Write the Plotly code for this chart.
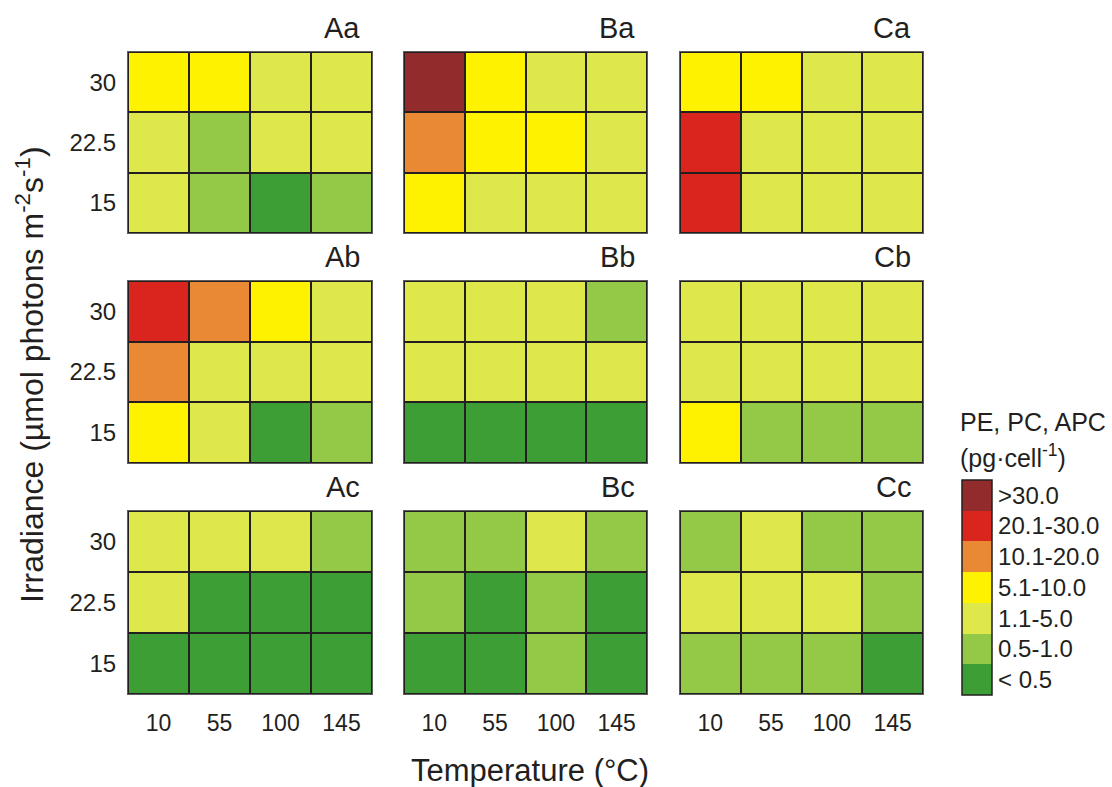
import plotly.graph_objects as go

W, H = 1112, 787

# ---------------- data ----------------
temperatures = ["10", "55", "100", "145"]
irradiance = ["15", "22.5", "30"]          # bottom -> top
class_labels = ["< 0.5", "0.5-1.0", "1.1-5.0", "5.1-10.0", "10.1-20.0", "20.1-30.0", ">30.0"]
class_colors = ["#3e9e36", "#94c947", "#dfe84a", "#fff200", "#ea8933", "#d9251e", "#922b2b"]

# class index per cell; rows = irradiance 15, 22.5, 30 ; cols = temperature 10,55,100,145
Aa = [[2, 1, 0, 1], [2, 1, 2, 2], [3, 3, 2, 2]]
Ba = [[3, 2, 2, 2], [4, 3, 3, 2], [6, 3, 2, 2]]
Ca = [[5, 2, 2, 2], [5, 2, 2, 2], [3, 3, 2, 2]]
Ab = [[3, 2, 0, 1], [4, 2, 2, 2], [5, 4, 3, 2]]
Bb = [[0, 0, 0, 0], [2, 2, 2, 2], [2, 2, 2, 1]]
Cb = [[3, 1, 1, 1], [2, 2, 2, 2], [2, 2, 2, 2]]
Ac = [[0, 0, 0, 0], [2, 0, 0, 0], [2, 2, 2, 1]]
Bc = [[0, 0, 1, 0], [1, 0, 1, 0], [1, 1, 2, 1]]
Cc = [[1, 1, 1, 0], [2, 2, 2, 1], [1, 2, 1, 1]]

panels = [
    ["Aa", "Ba", "Ca"],
    ["Ab", "Bb", "Cb"],
    ["Ac", "Bc", "Cc"],
]
panel_data = {"Aa": Aa, "Ba": Ba, "Ca": Ca, "Ab": Ab, "Bb": Bb, "Cb": Cb,
              "Ac": Ac, "Bc": Bc, "Cc": Cc}

# ---------------- layout geometry (pixels) ----------------
col_px = [(128, 372), (404, 647), (680, 923)]
row_px = [(52, 233), (281, 463), (511, 694)]

def px_x(x):
    return x / W

def px_y(y):
    return 1 - y / H

n = len(class_colors)
colorscale = []
for i, c in enumerate(class_colors):
    colorscale.append([i / n, c])
    colorscale.append([(i + 1) / n, c])

TXT = "#231f20"
FONT = "Arial, Liberation Sans, sans-serif"

fig = go.Figure()
layout = dict(
    width=W, height=H,
    margin=dict(l=0, r=0, t=0, b=0, autoexpand=False),
    paper_bgcolor="white",
    plot_bgcolor=TXT,
    font=dict(family=FONT, color=TXT, size=22),
    showlegend=False,
)
annotations = []
shapes = []

k = 0
for r in range(3):
    for c in range(3):
        k += 1
        name = panels[r][c]
        xa = "x" if k == 1 else f"x{k}"
        ya = "y" if k == 1 else f"y{k}"
        trace = go.Heatmap(
            z=panel_data[name], x=temperatures, y=irradiance,
            xaxis=xa, yaxis=ya,
            zmin=-0.5, zmax=n - 0.5, colorscale=colorscale,
            xgap=2, ygap=2, hoverinfo="skip",
            showscale=(k == 1),
        )
        if k == 1:
            cb_top, cb_bot = 480, 695
            trace.colorbar = dict(
                thickness=30, thicknessmode="pixels",
                len=cb_bot - cb_top, lenmode="pixels",
                x=px_x(962), xanchor="left", xpad=0,
                y=px_y((cb_top + cb_bot) / 2), yanchor="middle", ypad=0,
                tickvals=list(range(n)), ticktext=class_labels,
                ticks="", ticklen=0,
                tickfont=dict(size=24, color=TXT, family=FONT),
                outlinecolor=TXT, outlinewidth=1.5,
            )
            # separators between legend boxes
            step = (cb_bot - cb_top) / n
            for i in range(1, n):
                yy = cb_top + i * step
                shapes.append(dict(type="line", xref="paper", yref="paper",
                                   x0=px_x(962), x1=px_x(992),
                                   y0=px_y(yy), y1=px_y(yy),
                                   line=dict(color=TXT, width=1.5)))
        fig.add_trace(trace)
        x0, x1 = col_px[c]
        y0, y1 = row_px[r]
        key_x = "xaxis" if k == 1 else f"xaxis{k}"
        key_y = "yaxis" if k == 1 else f"yaxis{k}"
        layout[key_x] = dict(
            domain=[px_x(x0), px_x(x1)], anchor=ya,
            type="category", showgrid=False, zeroline=False,
            showline=True, mirror=True, linecolor="#5e5e5e", linewidth=1,
            ticks="", showticklabels=(r == 2),
            tickfont=dict(size=23, color=TXT), ticklabelstandoff=8,
            fixedrange=True,
        )
        layout[key_y] = dict(
            domain=[px_y(y1), px_y(y0)], anchor=xa,
            type="category", showgrid=False, zeroline=False,
            showline=True, mirror=True, linecolor="#5e5e5e", linewidth=1,
            ticks="", showticklabels=(c == 0),
            tickfont=dict(size=24, color=TXT), ticklabelstandoff=6,
            fixedrange=True,
        )
        annotations.append(dict(
            text=name, xref="paper", yref="paper",
            x=px_x(x1 - 10), y=px_y(y0 - 24), xanchor="right", yanchor="middle",
            showarrow=False, font=dict(size=29, color=TXT, family=FONT),
        ))

# axis titles
annotations.append(dict(
    text="Temperature (°C)", xref="paper", yref="paper",
    x=px_x(530), y=px_y(770), xanchor="center", yanchor="middle",
    showarrow=False, font=dict(size=31, color=TXT, family=FONT),
))
annotations.append(dict(
    text="Irradiance (µmol photons m<sup>-2</sup>s<sup>-1</sup>)", xref="paper", yref="paper",
    x=px_x(30), y=px_y(375), xanchor="center", yanchor="middle", textangle=-90,
    showarrow=False, font=dict(size=32, color=TXT, family=FONT),
))
# legend title
annotations.append(dict(
    text="PE, PC, APC", xref="paper", yref="paper",
    x=px_x(958), y=px_y(422), xanchor="left", yanchor="middle",
    showarrow=False, font=dict(size=25, color=TXT, family=FONT),
))
annotations.append(dict(
    text="(pg·cell<sup>-1</sup>)", xref="paper", yref="paper",
    x=px_x(958), y=px_y(456), xanchor="left", yanchor="middle",
    showarrow=False, font=dict(size=25, color=TXT, family=FONT),
))

layout["annotations"] = annotations
layout["shapes"] = shapes
fig.update_layout(**layout)
fig.write_html(
    "out.html",
    config={"displayModeBar": False},
    post_script="document.body.style.margin='0';document.body.style.padding='0';",
)
